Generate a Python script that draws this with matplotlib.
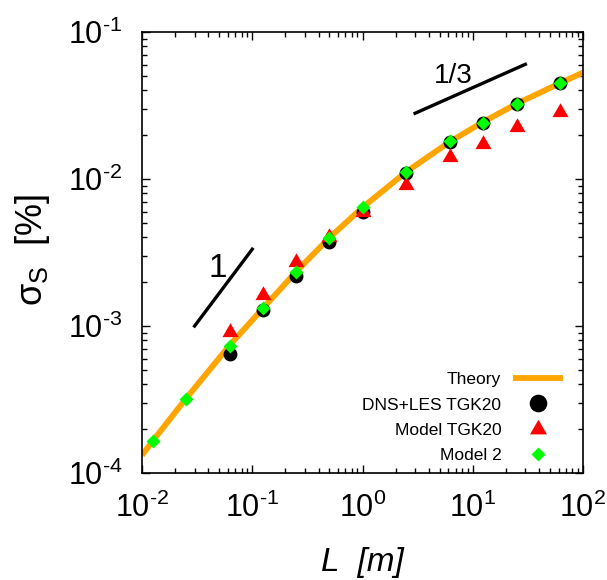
import matplotlib
matplotlib.use("Agg")
import matplotlib.pyplot as plt
from matplotlib.lines import Line2D
from matplotlib.ticker import FixedLocator, FixedFormatter, LogLocator, NullFormatter

plt.rcParams['font.family'] = ['Liberation Sans', 'DejaVu Sans']
plt.rcParams['mathtext.fontset'] = 'custom'
plt.rcParams['mathtext.rm'] = 'Liberation Sans'
plt.rcParams['mathtext.it'] = 'Liberation Sans:italic'
plt.rcParams['mathtext.sf'] = 'Liberation Sans'
plt.rcParams['mathtext.bf'] = 'Liberation Sans:bold'

# ---- data ----
L_theory = [0.01, 0.0125, 0.025, 0.0625, 0.125, 0.25, 0.5, 1.0, 2.5, 6.25, 12.5, 25.0, 62.5, 100.0]
S_theory = [1.32e-4, 1.65e-4, 3.2e-4, 7.4e-4, 1.32e-3, 2.34e-3, 3.98e-3, 6.4e-3,
            1.12e-2, 1.8e-2, 2.45e-2, 3.25e-2, 4.5e-2, 5.3e-2]

L_dns = [0.0625, 0.125, 0.25, 0.5, 1.0, 2.5, 6.25, 12.5, 25.0, 62.5]
S_dns = [6.5e-4, 1.28e-3, 2.19e-3, 3.75e-3, 6.0e-3, 1.1e-2, 1.79e-2, 2.39e-2, 3.25e-2, 4.52e-2]

L_tgk = [0.0625, 0.125, 0.25, 0.5, 1.0, 2.5, 6.25, 12.5, 25.0, 62.5]
S_tgk = [9.06e-4, 1.62e-3, 2.73e-3, 4.03e-3, 6.0e-3, 9.1e-3, 1.42e-2, 1.73e-2, 2.25e-2, 2.87e-2]

L_m2 = [0.0125, 0.025, 0.0625, 0.125, 0.25, 0.5, 1.0, 2.5, 6.25, 12.5, 25.0, 62.5]
S_m2 = [1.65e-4, 3.17e-4, 7.35e-4, 1.32e-3, 2.34e-3, 3.99e-3, 6.42e-3, 1.12e-2, 1.8e-2, 2.39e-2, 3.24e-2, 4.52e-2]

slope1_x = [0.03, 0.1]
slope1_y = [1.0e-3, 3.33e-3]
slope13_x = [3.0, 30.0]
slope13_y = [0.028, 0.0603]

xticks = [1e-2, 1e-1, 1e0, 1e1, 1e2]
xtick_labels = [r'$\mathdefault{10^{\text{-}2}}$', r'$\mathdefault{10^{\text{-}1}}$', r'$\mathdefault{10^{0}}$',
                r'$\mathdefault{10^{1}}$', r'$\mathdefault{10^{2}}$']
yticks = [1e-4, 1e-3, 1e-2, 1e-1]
ytick_labels = [r'$\mathdefault{10^{\text{-}4}}$', r'$\mathdefault{10^{\text{-}3}}$', r'$\mathdefault{10^{\text{-}2}}$',
                r'$\mathdefault{10^{\text{-}1}}$']

legend_labels = ['Theory', 'DNS+LES TGK20', 'Model TGK20', 'Model 2']

# ---- figure ----
W, H = 607, 580
fig = plt.figure(figsize=(W / 100, H / 100), dpi=100)
ax = fig.add_axes([142 / W, 107 / H, 441 / W, 441 / H])
ax.set_xscale('log')
ax.set_yscale('log')
ax.set_xlim(1e-2, 1e2)
ax.set_ylim(1e-4, 1e-1)

orange = '#FFA500'
tri = [(-1, -0.5774), (1, -0.5774), (0, 1.1547)]

ax.plot(L_theory, S_theory, color=orange, lw=4.2, solid_capstyle='butt', zorder=2)
ax.plot(L_dns, S_dns, 'o', color='black', ms=10, mec='none', zorder=3)
ax.plot(L_tgk, S_tgk, marker=tri, ls='none', color='#FF0000', ms=13.3, mec='none', zorder=4)
ax.plot(L_m2, S_m2, 'D', ls='none', color='#00FF00', ms=7.1, mec='none', zorder=5)

ax.plot(slope1_x, slope1_y, color='black', lw=2.4, zorder=6)
ax.plot(slope13_x, slope13_y, color='black', lw=2.4, zorder=6)
ax.text(0.0482, 2.6e-3, '1', fontsize=24, ha='center', va='center_baseline')
ax.text(6.66, 0.053, '1/3', fontsize=20, ha='center', va='center_baseline')

# ticks
ax.xaxis.set_major_locator(FixedLocator(xticks))
ax.xaxis.set_major_formatter(FixedFormatter(xtick_labels))
ax.yaxis.set_major_locator(FixedLocator(yticks))
ax.yaxis.set_major_formatter(FixedFormatter(ytick_labels))
ax.xaxis.set_minor_locator(LogLocator(base=10, subs=range(2, 10), numticks=20))
ax.yaxis.set_minor_locator(LogLocator(base=10, subs=range(2, 10), numticks=20))
ax.xaxis.set_minor_formatter(NullFormatter())
ax.yaxis.set_minor_formatter(NullFormatter())
ax.tick_params(which='both', direction='in', top=True, right=True, width=1.0)
ax.tick_params(which='major', length=6)
ax.tick_params(which='minor', length=3.5)
ax.tick_params(axis='x', which='major', labelsize=22, pad=14)
ax.tick_params(axis='y', which='major', labelsize=22, pad=14)
for s in ax.spines.values():
    s.set_linewidth(1.2)

ax.set_xlabel('L  [m]', fontsize=24, fontstyle='italic')
ax.xaxis.set_label_coords(0.5, -0.204)
ax.xaxis.label.set_va('center')
ax.set_ylabel(r'$\mathrm{σ}_\mathrm{S}$  $\mathit{[\%]}$', fontsize=26)
ax.yaxis.set_label_coords(-0.249, 0.506)
ax.yaxis.label.set_va('center')
ax.yaxis.label.set_ha('center')

handles = [
    Line2D([], [], color=orange, lw=4.2, solid_capstyle='butt'),
    Line2D([], [], marker='o', ls='none', color='black', ms=12.7, mec='none'),
    Line2D([], [], marker=tri, ls='none', color='#FF0000', ms=14.1, mec='none'),
    Line2D([], [], marker='D', ls='none', color='#00FF00', ms=7.6, mec='none'),
]
leg = ax.legend(handles, legend_labels, loc='lower right', bbox_to_anchor=(0.9546, 0.0227),
                frameon=False, markerfirst=False, fontsize=12.5, handlelength=2.9,
                handletextpad=0.65, labelspacing=0.58, borderpad=0, borderaxespad=0)

fig.savefig('out.png', dpi=100)
